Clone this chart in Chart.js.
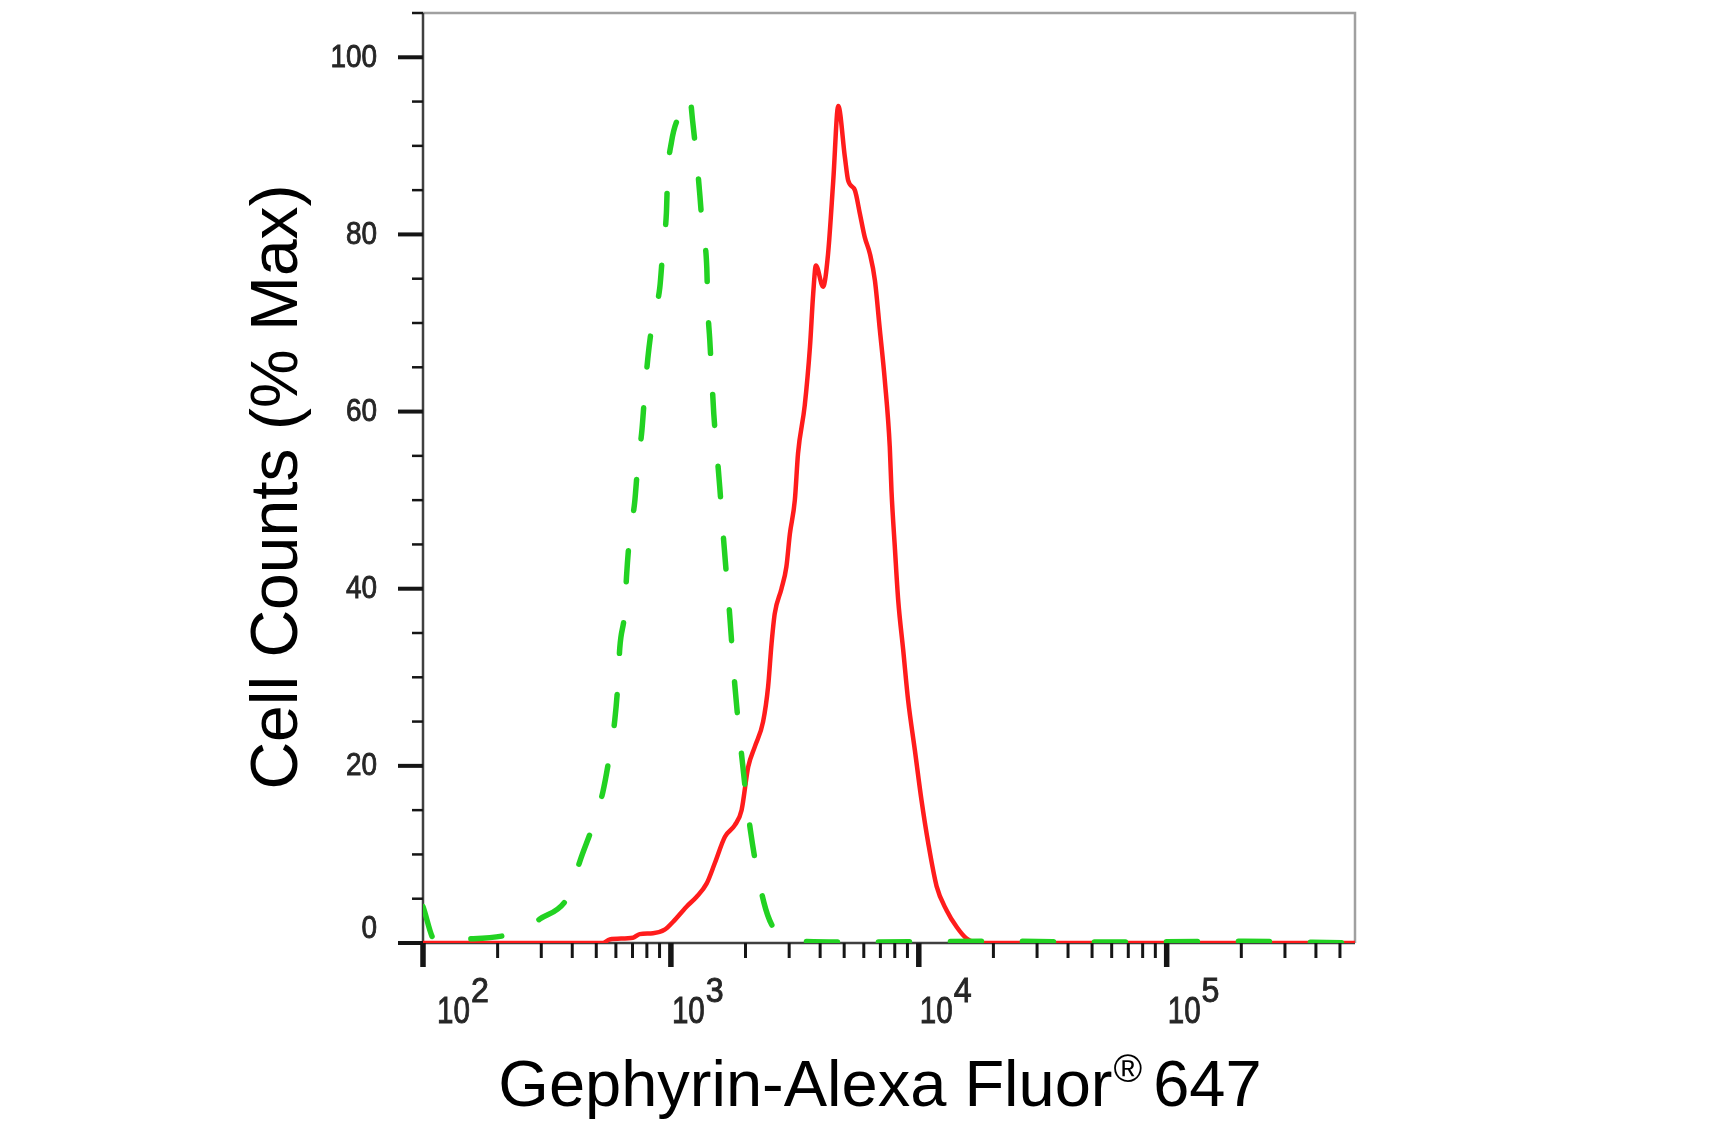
<!DOCTYPE html>
<html>
<head>
<meta charset="utf-8">
<script src="https://cdn.jsdelivr.net/npm/chart.js@4.4.1/dist/chart.umd.min.js"></script>
<style>
  html, body { margin: 0; padding: 0; background: #fff; }
</style>
</head>
<body>
<canvas id="myChart" width="1720" height="1137"></canvas>
<script>
// isotype control, green dashed (intensity, % of max)
const controlX = [100, 112, 141, 231, 296, 391, 429, 485, 532, 566, 594, 612, 622, 652, 662, 682,
    714, 735, 764, 785, 807, 845, 902, 929, 959, 970, 1005, 1096, 1189, 1225, 1274, 1309, 1346,
    1396, 1409, 1435, 1462, 1489, 1531, 1574, 1633, 1726, 1811, 1936, 2094, 2371, 2624, 3311,
    6000, 20000, 60000, 200000, 575000];
const controlY = [4.1, 0.3, 0.4, 1.1, 2.7, 5.6, 9.2, 13.3, 17.1, 21.2, 25.2, 29.5, 33.3, 37.6, 41.3, 45.9,
    49.7, 53.9, 57.9, 62.2, 66.0, 70.3, 74.0, 78.4, 82.4, 86.5, 90.4, 93.8, 95.6, 92.7, 88.1, 84.4, 80.1,
    76.2, 71.8, 68.1, 63.9, 59.8, 55.6, 51.5, 45.4, 37.1, 29.1, 20.8, 12.7, 4.6, 1.5, 0.2,
    0.1, 0.2, 0.1, 0.2, 0];

// Gephyrin stained, red solid
const gephyrinX = [100, 531, 566, 703, 748, 847, 944, 1021, 1156, 1268, 1393, 1503, 1652, 1811, 1928,
    2051, 2183, 2355, 2466, 2547, 2624, 2793, 2924, 3020, 3162, 3258, 3467, 3639, 3750, 3846, 4111,
    4305, 4519, 4732, 5035, 5188, 5521, 5781, 6053, 6353, 6653, 6966, 7295, 7638, 7762, 8017, 8260,
    8650, 9057, 9638, 10257, 10914, 11803, 12942, 14223, 15596, 17660, 575000];
const gephyrinY = [0, 0, 0.4, 0.6, 1.0, 1.1, 1.5, 2.4, 4.1, 5.2, 6.7, 9.0, 12.0, 13.3, 15.0,
    19.9, 22.2, 25.0, 28.9, 33.8, 37.2, 40.0, 42.5, 46.2, 50.0, 55.3, 60.7, 67.3, 73.3, 76.5, 74.1,
    77.8, 86.1, 94.5, 88.7, 86.1, 85.0, 82.4, 79.7, 77.8, 74.8, 69.2, 63.5, 56.0, 51.0, 44.4, 38.7,
    33.1, 27.4, 21.8, 16.1, 11.3, 6.4, 3.7, 1.8, 0.5, 0, 0];

const xMin = 100, xMax = 575000;
const yMin = 0, yMax = 105;
const xMajorTicks = [100, 1000, 10000, 100000];
const xTickExponents = ["2", "3", "4", "5"];
const yMajorTicks = [0, 20, 40, 60, 80, 100];
const yTickLabels = ["0", "20", "40", "60", "80", "100"];
const yTitle = "Cell Counts (% Max)";
const xTitleParts = ["Gephyrin-Alexa Fluor", "\u00AE", "647"];

// minor ticks: 2..9 in each decade, every 5 on y
let xMinorTicks = [];
xMajorTicks.forEach(d => {
    for (let m = 2; m <= 9; m++) if (d * m <= xMax) xMinorTicks.push(d * m);
});
let yMinorTicks = [];
for (let v = 5; v <= yMax; v += 5) if (v % 20 != 0) yMinorTicks.push(v);

function toPoints(xs, ys) {
    return xs.map((x, i) => ({ x: x, y: ys[i] }));
}

function stroke(ctx, x1, y1, x2, y2, w) {
    ctx.lineWidth = w;
    ctx.beginPath();
    ctx.moveTo(x1, y1);
    ctx.lineTo(x2, y2);
    ctx.stroke();
}

// narrow, slightly heavy text like the cytometer software labels
function narrowText(ctx, text, x, y, sx, align) {
    ctx.save();
    ctx.translate(x, y);
    ctx.scale(sx, 1);
    ctx.textAlign = align;
    ctx.fillText(text, 0, 0);
    ctx.lineWidth = 0.9;
    ctx.strokeText(text, 0, 0);
    ctx.restore();
}

const flowAxes = {
    id: "flowAxes",
    beforeDatasetsDraw(chart) {
        const { ctx, chartArea: a, scales: { x, y } } = chart;
        ctx.save();
        ctx.lineCap = "butt";
        // box: light grey top/right, dark left/bottom
        ctx.strokeStyle = "#a0a0a0";
        ctx.lineWidth = 2.5;
        ctx.beginPath();
        ctx.moveTo(a.left, a.top);
        ctx.lineTo(a.right, a.top);
        ctx.lineTo(a.right, a.bottom);
        ctx.stroke();
        ctx.strokeStyle = "#404040";
        ctx.beginPath();
        ctx.moveTo(a.left, a.top);
        ctx.lineTo(a.left, a.bottom);
        ctx.lineTo(a.right, a.bottom);
        ctx.stroke();

        ctx.strokeStyle = "#151515";
        xMinorTicks.forEach(v => {
            const px = x.getPixelForValue(v);
            stroke(ctx, px, a.bottom, px, a.bottom + 15, 3);
        });
        xMajorTicks.forEach(v => {
            const px = x.getPixelForValue(v);
            stroke(ctx, px, a.bottom, px, a.bottom + 24, 5.5);
        });
        yMinorTicks.forEach(v => {
            const py = y.getPixelForValue(v);
            stroke(ctx, a.left - 11, py, a.left, py, 2.5);
        });
        yMajorTicks.forEach(v => {
            const py = y.getPixelForValue(v);
            stroke(ctx, a.left - 25, py, a.left, py, 4);
        });
        ctx.restore();
    },
    afterDraw(chart) {
        const { ctx, chartArea: a, scales: { x, y } } = chart;
        ctx.save();
        ctx.fillStyle = "#262626";
        ctx.strokeStyle = "#262626";
        ctx.textBaseline = "middle";
        ctx.font = "31px 'Liberation Sans', Arial, sans-serif";
        yMajorTicks.forEach((v, i) => {
            let py = y.getPixelForValue(v);
            if (v == 0) py -= 15;
            narrowText(ctx, yTickLabels[i], 377, py + 1, 0.9, "right");
        });

        ctx.textBaseline = "alphabetic";
        xMajorTicks.forEach((v, i) => {
            const px = x.getPixelForValue(v) + (i == 0 ? 14 : 1);
            ctx.font = "37px 'Liberation Sans', Arial, sans-serif";
            narrowText(ctx, "10", px, 1023, 0.8, "left");
            const w = ctx.measureText("10").width * 0.8;
            ctx.font = "35px 'Liberation Sans', Arial, sans-serif";
            narrowText(ctx, xTickExponents[i], px + w + 1, 1002, 0.92, "left");
        });

        // axis titles
        ctx.fillStyle = "#000";
        ctx.font = "66px 'Liberation Sans', Arial, sans-serif";
        ctx.save();
        ctx.translate(297, 487);
        ctx.rotate(-Math.PI / 2);
        ctx.textAlign = "center";
        ctx.fillText(yTitle, 0, 0);
        ctx.restore();

        const bigFont = "65px 'Liberation Sans', Arial, sans-serif";
        const smallFont = "39px 'Liberation Sans', Arial, sans-serif";
        const gap = 12;
        ctx.font = bigFont;
        const w1 = ctx.measureText(xTitleParts[0]).width;
        const w3 = ctx.measureText(xTitleParts[2]).width;
        ctx.font = smallFont;
        const w2 = ctx.measureText(xTitleParts[1]).width;
        let sx = 880 - (w1 + w2 + gap + w3) / 2;
        ctx.textAlign = "left";
        ctx.font = bigFont;
        ctx.fillText(xTitleParts[0], sx, 1106);
        ctx.font = smallFont;
        ctx.fillText(xTitleParts[1], sx + w1 + 1, 1082);
        ctx.font = bigFont;
        ctx.fillText(xTitleParts[2], sx + w1 + w2 + gap, 1106);
        ctx.restore();
    }
};

const ctx = document.getElementById("myChart");
const myChart = new Chart(ctx, {
    type: "line",
    data: {
        datasets: [
            {
                label: "Isotype control",
                data: toPoints(controlX, controlY),
                borderColor: "rgb(34, 210, 34)",
                borderWidth: 5.5,
                borderDash: [31, 41],
                borderCapStyle: "round",
                pointRadius: 0,
                fill: false,
                cubicInterpolationMode: "monotone"
            },
            {
                label: "Gephyrin",
                data: toPoints(gephyrinX, gephyrinY),
                borderColor: "rgb(255, 28, 28)",
                borderWidth: 4.5,
                borderJoinStyle: "round",
                pointRadius: 0,
                fill: false,
                cubicInterpolationMode: "monotone"
            }
        ]
    },
    options: {
        responsive: false,
        devicePixelRatio: 1,
        animation: false,
        layout: { padding: { left: 423, top: 13, right: 365, bottom: 194 } },
        plugins: {
            legend: { display: false },
            tooltip: { enabled: false }
        },
        scales: {
            x: { type: "logarithmic", min: xMin, max: xMax, display: false },
            y: { type: "linear", min: yMin, max: yMax, display: false }
        }
    },
    plugins: [flowAxes]
});
</script>
</body>
</html>
